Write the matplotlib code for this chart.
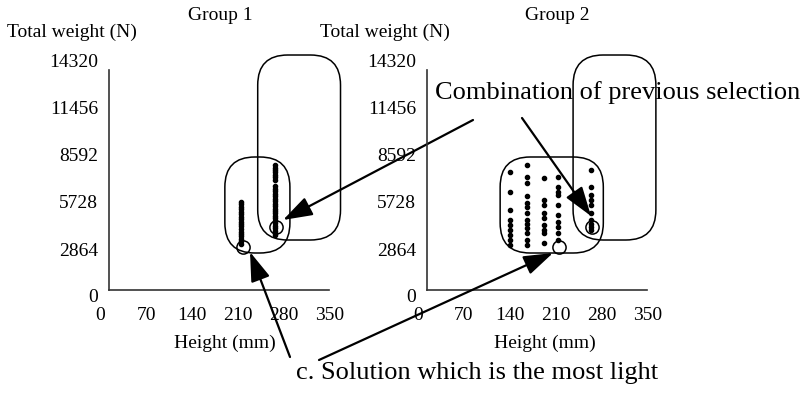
import numpy as np
import matplotlib
matplotlib.use("Agg")
import matplotlib.pyplot as plt
from matplotlib.patches import FancyBboxPatch

plt.rcParams['font.family'] = ['Liberation Serif', 'DejaVu Serif']

# tick labels
x_ticks = [0, 70, 140, 210, 280, 350]
y_ticks = [0, 2864, 5728, 8592, 11456, 14320]

# Group 1: two columns of designs (height mm -> total weight N)
g1_heights = [215, 266]
g1_weights = [
    [5850, 5710, 5560, 5400, 5260, 5100, 4950, 4810, 4650, 4500, 4360, 4200,
     4050, 3900, 3760, 3600, 3450, 3300],
    [8100, 7950, 7800, 7650, 7500, 7350, 7200, 6800, 6650, 6500, 6350, 6200,
     6050, 5900, 5750, 5600, 5450, 5300, 5150, 5000, 4850, 4700, 4550, 4400,
     4250, 4100, 3950, 3850],
]

# Group 2: scattered designs
g2_heights = [140, 166, 192, 213, 263]
g2_weights = [
    [7677, 6459, 5362, 4753, 4448, 4143, 3839, 3534, 3229],
    [8104, 7373, 7007, 6215, 5788, 5545, 5179, 4753, 4509, 4265, 3960, 3534, 3229],
    [7312, 5971, 5667, 5179, 4874, 4448, 4143, 3960, 3351],
    [7373, 6763, 6459, 6276, 5667, 5057, 4631, 4326, 3960, 3534],
    [7799, 6763, 6276, 5971, 5667, 5179, 4753, 4509, 4326, 4143],
]

# highlighted solutions (lightest, combination of previous selection)
light_pt = (218, 3108)
combo_pt = (268, 4326)

# selection regions (x0, x1, y0, y1)
inner_box = [(190, 289, 2742, 8592), (125, 282, 2742, 8592)]
tall_box = [(240, 366, 3534, 14807), (236, 362, 3534, 14807)]

W, H = 806, 393
fig = plt.figure(figsize=(W / 100, H / 100), dpi=100)

kx = 230 / 350        # px per mm
ky = 235 / 14320      # px per N
aspect = kx / ky
rad = 30 / kx

axes = []
for i, left in enumerate([109, 427]):
    ax = fig.add_axes([left / W, (H - 290) / H, 220 / W, 220 / H])
    ax.patch.set_visible(False)
    ax.set_xlim(9 / kx, 229 / kx)
    ax.set_ylim(8 / ky, 228 / ky)
    for s in ['top', 'right']:
        ax.spines[s].set_visible(False)
    for s in ['left', 'bottom']:
        ax.spines[s].set_linewidth(1.2)
        ax.spines[s].set_color('#333333')
    ax.set_xticks([])
    ax.set_yticks([])
    for t in x_ticks:
        ax.text(t, -17 / ky, str(t), ha='center', va='center', fontsize=14, clip_on=False)
    for t in y_ticks:
        ax.text(-2 / kx, t, str(t), ha='right', va='center', fontsize=14, clip_on=False)
    for (x0, x1, y0, y1) in [inner_box[i], tall_box[i]]:
        p = FancyBboxPatch((x0, y0), x1 - x0, y1 - y0,
                           boxstyle=f"round,pad=0,rounding_size={rad}",
                           mutation_aspect=aspect, fc='none', ec='black',
                           lw=1.1, clip_on=False)
        ax.add_patch(p)
    axes.append(ax)

ax1, ax2 = axes
for h, w in zip(g1_heights, g1_weights):
    ax1.scatter([h] * len(w), w, s=9, color='black', zorder=3)
for h, w in zip(g2_heights, g2_weights):
    ax2.scatter([h] * len(w), w, s=9, color='black', zorder=3)
for ax, dx in [(ax1, 0), (ax2, -3)]:
    ax.plot(light_pt[0] + dx, light_pt[1], 'o', mfc='none', mec='black', ms=9.5, mew=1.1)
    ax.plot(combo_pt[0] + dx, combo_pt[1], 'o', mfc='none', mec='black', ms=9.5, mew=1.1)

# titles and axis labels
for cx, title in [(220, 'Group 1'), (557, 'Group 2')]:
    fig.text(cx / W, 1 - 15 / H, title, ha='center', va='center', fontsize=14)
for cx in [72, 385]:
    fig.text(cx / W, 1 - 32 / H, 'Total weight (N)', ha='center', va='center', fontsize=14)
for cx in [225, 545]:
    fig.text(cx / W, 1 - 343 / H, 'Height (mm)', ha='center', va='center', fontsize=14)

# annotations
fig.text(435 / W, 1 - 93 / H, 'Combination of previous selection',
         ha='left', va='center', fontsize=19)
fig.text(296 / W, 1 - 373 / H, 'c. Solution which is the most light',
         ha='left', va='center', fontsize=19)

aprops = dict(arrowstyle='-|>,head_length=0.9,head_width=0.3', mutation_scale=20,
              lw=1.6, color='black', shrinkA=0, shrinkB=0)
arrows = [
    (ax1, (278.5, 4753), (473, 120)),
    (ax2, (263.3, 4997), (522, 118)),
    (ax1, (228.3, 2803), (290, 357)),
    (ax2, (205.4, 2742), (319, 360)),
]
for ax, xy, (px, py) in arrows:
    ax.annotate('', xy=xy, xycoords='data', xytext=(px, H - py),
                textcoords='figure pixels', arrowprops=aprops, annotation_clip=False)

fig.savefig('out.png', dpi=100)
